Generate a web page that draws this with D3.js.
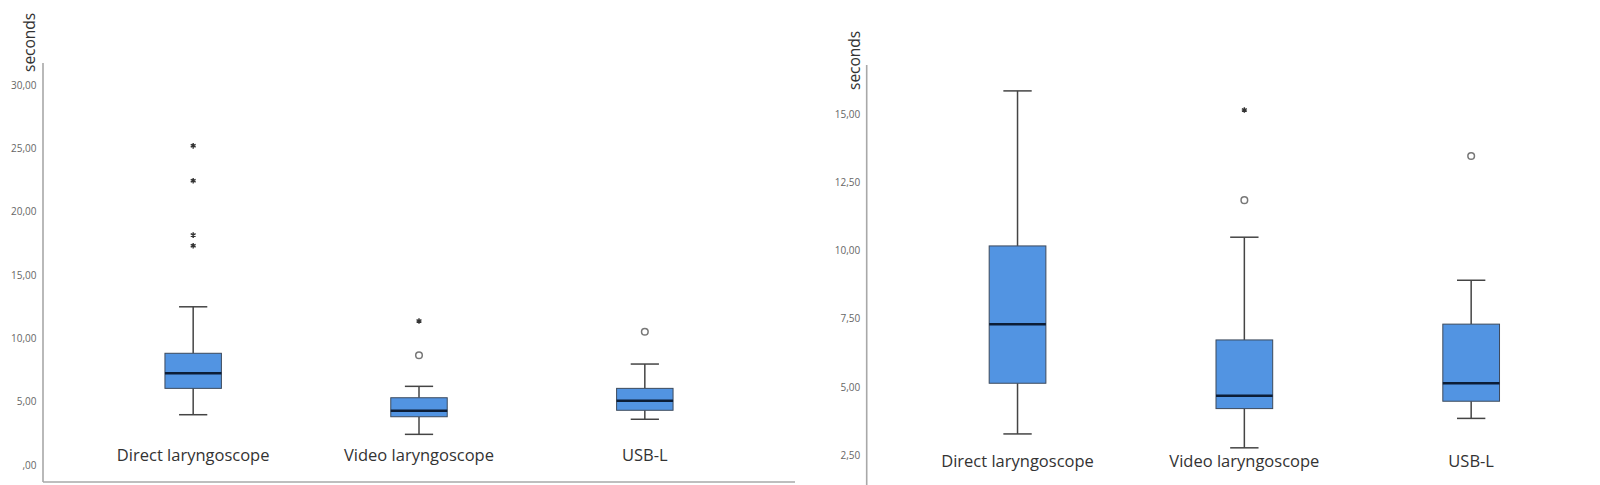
<!DOCTYPE html>
<html>
<head>
<meta charset="utf-8">
<script src="https://cdn.jsdelivr.net/npm/d3@7"></script>
<style>
  body { margin: 0; background: #fff; }
  svg { display: block; }
</style>
</head>
<body>
<div id="chart"></div>
<script>
// Categories shared by both panels
const categories = ["Direct laryngoscope", "Video laryngoscope", "USB-L"];

// Left panel (seconds)
const leftLow = [3.97, 2.42, 3.61];
const leftQ1 = [6.05, 3.81, 4.32];
const leftMedian = [7.24, 4.29, 5.08];
const leftQ3 = [8.82, 5.31, 6.05];
const leftHigh = [12.49, 6.21, 7.97];
const leftOutliers = [[], [8.66], [10.52]];
const leftExtremes = [[25.2, 22.44, 18.15, 17.31], [11.37], []];
const leftTicks = [0, 5, 10, 15, 20, 25, 30];

// Right panel (seconds)
const rightLow = [3.28, 2.77, 3.85];
const rightQ1 = [5.14, 4.21, 4.48];
const rightMedian = [7.31, 4.68, 5.14];
const rightQ3 = [10.18, 6.73, 7.31];
const rightHigh = [15.87, 10.5, 8.92];
const rightOutliers = [[], [11.86], [13.48]];
const rightExtremes = [[], [15.17], []];
const rightTicks = [2.5, 5, 7.5, 10, 12.5, 15];

const width = 1600;
const height = 485;

const svg = d3.select("#chart").append("svg")
    .attr("width", width)
    .attr("height", height);

// comma decimals, SPSS style (",00" for zero)
const locale = d3.formatLocale({decimal: ",", thousands: ".", grouping: [3], currency: ["", ""]});
const fmt = v => locale.format(".2f")(v).replace(/^0,/, ",");

function drawPanel(opt) {
    const g = svg.append("g");

    const x = d3.scalePoint()
        .domain(categories)
        .range([opt.x0, opt.x1])
        .padding(0.665);

    const y = d3.scaleLinear()
        .domain(opt.domain)
        .range(opt.yRange);

    const boxW = x.step() * 0.25;
    const capW = boxW / 2;

    // axis lines
    g.append("line")
        .attr("x1", opt.x0).attr("x2", opt.x0)
        .attr("y1", opt.axisTop).attr("y2", opt.axisBottom)
        .attr("stroke", "#a8a8a8").attr("stroke-width", 1.6);
    if (opt.baseline) {
        g.append("line")
            .attr("x1", opt.x0).attr("x2", opt.x1)
            .attr("y1", opt.axisBottom).attr("y2", opt.axisBottom)
            .attr("stroke", "#a8a8a8").attr("stroke-width", 1.6);
    }

    // tick labels
    g.selectAll(".tick")
        .data(opt.ticks)
        .enter().append("text")
        .attr("x", opt.x0 - 6.5)
        .attr("y", d => y(d))
        .attr("dy", "0.35em")
        .attr("text-anchor", "end")
        .attr("font-family", "Open Sans, sans-serif")
        .attr("font-size", 10)
        .attr("fill", "#666")
        .text(fmt);

    // axis title
    g.append("text")
        .attr("transform", `translate(${opt.titleX},${opt.titleY}) rotate(-90)`)
        .attr("font-family", "Open Sans, sans-serif")
        .attr("font-size", 15.5)
        .attr("fill", "#333")
        .text("seconds");

    const rows = categories.map((c, i) => ({
        c, lo: opt.low[i], q1: opt.q1[i], med: opt.median[i], q3: opt.q3[i], hi: opt.high[i],
        out: opt.outliers[i], ext: opt.extremes[i]
    }));

    const box = g.selectAll(".box").data(rows).enter().append("g");

    // whiskers
    box.append("line")
        .attr("x1", d => x(d.c)).attr("x2", d => x(d.c))
        .attr("y1", d => y(d.hi)).attr("y2", d => y(d.q3))
        .attr("stroke", "#444").attr("stroke-width", 1.5);
    box.append("line")
        .attr("x1", d => x(d.c)).attr("x2", d => x(d.c))
        .attr("y1", d => y(d.q1)).attr("y2", d => y(d.lo))
        .attr("stroke", "#444").attr("stroke-width", 1.5);
    box.append("line")
        .attr("x1", d => x(d.c) - capW / 2).attr("x2", d => x(d.c) + capW / 2)
        .attr("y1", d => y(d.hi)).attr("y2", d => y(d.hi))
        .attr("stroke", "#444").attr("stroke-width", 1.5);
    box.append("line")
        .attr("x1", d => x(d.c) - capW / 2).attr("x2", d => x(d.c) + capW / 2)
        .attr("y1", d => y(d.lo)).attr("y2", d => y(d.lo))
        .attr("stroke", "#444").attr("stroke-width", 1.5);

    // box
    box.append("rect")
        .attr("x", d => x(d.c) - boxW / 2)
        .attr("width", boxW)
        .attr("y", d => y(d.q3))
        .attr("height", d => y(d.q1) - y(d.q3))
        .attr("fill", "#5294e2")
        .attr("stroke", "#3d4a5c")
        .attr("stroke-width", 1);

    // median
    box.append("line")
        .attr("x1", d => x(d.c) - boxW / 2).attr("x2", d => x(d.c) + boxW / 2)
        .attr("y1", d => y(d.med)).attr("y2", d => y(d.med))
        .attr("stroke", "#0c1d36").attr("stroke-width", 2.5);

    // outliers (circles) and extremes (asterisks)
    box.each(function(d) {
        d3.select(this).selectAll(".out")
            .data(d.out)
            .enter().append("circle")
            .attr("cx", x(d.c))
            .attr("cy", v => y(v))
            .attr("r", 3.3)
            .attr("fill", "#fff")
            .attr("stroke", "#777")
            .attr("stroke-width", 1.5);

        d3.select(this).selectAll(".ext")
            .data(d.ext)
            .enter().append("path")
            .attr("transform", v => `translate(${x(d.c)},${y(v)})`)
            .attr("d", d3.symbol().type(d3.symbolAsterisk || d3.symbolCross).size(22))
            .attr("fill", "#333")
            .attr("stroke", "#333")
            .attr("stroke-width", 1.4);
    });

    // category labels
    g.selectAll(".cat")
        .data(categories)
        .enter().append("text")
        .attr("x", d => x(d))
        .attr("y", opt.labelY)
        .attr("text-anchor", "middle")
        .attr("font-family", "Open Sans, sans-serif")
        .attr("font-size", 16.5)
        .attr("fill", "#333")
        .text(d => d);
}

drawPanel({
    x0: 43, x1: 795,
    domain: [0, 30], yRange: [465, 85],
    axisTop: 63, axisBottom: 482, baseline: true,
    ticks: leftTicks,
    titleX: 35, titleY: 72,
    labelY: 461,
    low: leftLow, q1: leftQ1, median: leftMedian, q3: leftQ3, high: leftHigh,
    outliers: leftOutliers, extremes: leftExtremes
});

drawPanel({
    x0: 866.7, x1: 1622,
    domain: [0, 15], yRange: [523.3, 114.6],
    axisTop: 65, axisBottom: 495, baseline: false,
    ticks: rightTicks,
    titleX: 860, titleY: 90,
    labelY: 466.5,
    low: rightLow, q1: rightQ1, median: rightMedian, q3: rightQ3, high: rightHigh,
    outliers: rightOutliers, extremes: rightExtremes
});
</script>
</body>
</html>
